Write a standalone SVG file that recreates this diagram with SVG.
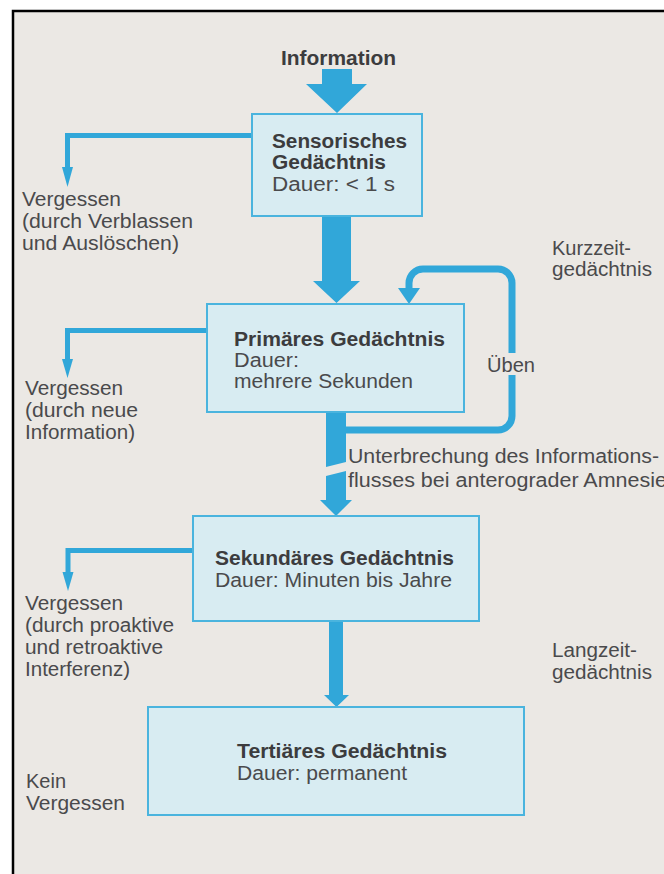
<svg xmlns="http://www.w3.org/2000/svg" width="664" height="874" viewBox="0 0 664 874">
  <style>
    .bg { fill: #ebe8e4; }
    .frame { stroke: #000; stroke-width: 2.5; fill: none; }
    .box { fill: #d8ecf2; stroke: #4ab4de; stroke-width: 2; }
    .arrow { fill: #31a7d9; }
    .line { fill: none; stroke: #31a7d9; stroke-width: 5; }
    .loop { fill: none; stroke: #31a7d9; stroke-width: 7; }
    text { font-family: "Liberation Sans", Arial, Helvetica, sans-serif; font-size: 20px; fill: #4a4a4c; }
    .b { font-weight: bold; fill: #3c3c3e; }
  </style>
  <rect x="0" y="0" width="664" height="874" fill="#ffffff"/>
  <rect class="bg" x="13" y="11" width="651" height="863"/>
  <path class="frame" d="M13 874 V11 H664"/>

  <g id="connectors">
    <polygon class="arrow" points="322,69 352,69 352,84 367,84 337,113 306,84 322,84"/>
    <polygon class="arrow" points="322,216 351,216 351,281 360,281 336.5,303 313,281 322,281"/>
    <polygon class="arrow" points="326,412 346,412 346,462 326,467"/>
    <polygon class="arrow" points="326,476 346,471 346,500 352,500 336,516 320,500 326,500"/>
    <polygon class="arrow" points="329,621 343,621 343,695 349,695 336.5,707 324,695 329,695"/>
    <path class="loop" d="M346 430 H498 A14 14 0 0 0 512 416 V375"/>
    <path class="loop" d="M512 353 V283 A14 14 0 0 0 498 269 H423 A14 14 0 0 0 409 283 V290"/>
    <polygon class="arrow" points="398,288 420,288 409,304"/>
    <path class="line" d="M252 135.5 H67.5 V170"/>
    <polygon class="arrow" points="62,167 73,167 67.5,187"/>
    <path class="line" d="M207 330.5 H67.5 V362"/>
    <polygon class="arrow" points="62,359 73,359 67.5,378"/>
    <path class="line" d="M193 550.5 H68 V575"/>
    <polygon class="arrow" points="62.5,572 73.5,572 68,591"/>
  </g>

  <g id="information">
    <text class="b" x="281" y="65" textLength="115" lengthAdjust="spacingAndGlyphs">Information</text>
  </g>

  <g id="sensorisches">
    <rect class="box" x="252" y="114" width="170" height="102"/>
    <text class="b" x="272" y="148" textLength="135" lengthAdjust="spacingAndGlyphs">Sensorisches</text>
    <text class="b" x="272" y="169" textLength="114" lengthAdjust="spacingAndGlyphs">Gedächtnis</text>
    <text x="272" y="191" textLength="123" lengthAdjust="spacingAndGlyphs">Dauer: &lt; 1 s</text>
  </g>

  <g id="primaeres">
    <rect class="box" x="207" y="304" width="257" height="108"/>
    <text class="b" x="234" y="346" textLength="211" lengthAdjust="spacingAndGlyphs">Primäres Gedächtnis</text>
    <text x="234" y="367" textLength="65" lengthAdjust="spacingAndGlyphs">Dauer:</text>
    <text x="234" y="388" textLength="179" lengthAdjust="spacingAndGlyphs">mehrere Sekunden</text>
  </g>

  <g id="sekundaeres">
    <rect class="box" x="193" y="516" width="286" height="105"/>
    <text class="b" x="215" y="565" textLength="239" lengthAdjust="spacingAndGlyphs">Sekundäres Gedächtnis</text>
    <text x="215" y="587" textLength="237" lengthAdjust="spacingAndGlyphs">Dauer: Minuten bis Jahre</text>
  </g>

  <g id="tertiaeres">
    <rect class="box" x="148" y="707" width="376" height="108"/>
    <text class="b" x="237" y="758" textLength="210" lengthAdjust="spacingAndGlyphs">Tertiäres Gedächtnis</text>
    <text x="237" y="780" textLength="170" lengthAdjust="spacingAndGlyphs">Dauer: permanent</text>
  </g>

  <g id="labels">
    <text x="22" y="206" textLength="99" lengthAdjust="spacingAndGlyphs">Vergessen</text>
    <text x="22" y="228" textLength="171" lengthAdjust="spacingAndGlyphs">(durch Verblassen</text>
    <text x="22" y="250" textLength="157" lengthAdjust="spacingAndGlyphs">und Auslöschen)</text>

    <text x="25" y="395" textLength="98" lengthAdjust="spacingAndGlyphs">Vergessen</text>
    <text x="25" y="417" textLength="113" lengthAdjust="spacingAndGlyphs">(durch neue</text>
    <text x="25" y="439" textLength="110" lengthAdjust="spacingAndGlyphs">Information)</text>

    <text x="25" y="610" textLength="98" lengthAdjust="spacingAndGlyphs">Vergessen</text>
    <text x="25" y="632" textLength="149" lengthAdjust="spacingAndGlyphs">(durch proaktive</text>
    <text x="25" y="654" textLength="138" lengthAdjust="spacingAndGlyphs">und retroaktive</text>
    <text x="25" y="676" textLength="105" lengthAdjust="spacingAndGlyphs">Interferenz)</text>

    <text x="26" y="788" textLength="40" lengthAdjust="spacingAndGlyphs">Kein</text>
    <text x="26" y="810" textLength="99" lengthAdjust="spacingAndGlyphs">Vergessen</text>

    <text x="552" y="255" textLength="79" lengthAdjust="spacingAndGlyphs">Kurzzeit-</text>
    <text x="552" y="276" textLength="100" lengthAdjust="spacingAndGlyphs">gedächtnis</text>

    <text x="552" y="657" textLength="85" lengthAdjust="spacingAndGlyphs">Langzeit-</text>
    <text x="552" y="679" textLength="100" lengthAdjust="spacingAndGlyphs">gedächtnis</text>

    <text x="487" y="372" textLength="48" lengthAdjust="spacingAndGlyphs">Üben</text>

    <text x="348" y="463" textLength="311" lengthAdjust="spacingAndGlyphs">Unterbrechung des Informations-</text>
    <text x="348" y="487" textLength="319" lengthAdjust="spacingAndGlyphs">flusses bei anterograder Amnesie</text>
  </g>
</svg>
